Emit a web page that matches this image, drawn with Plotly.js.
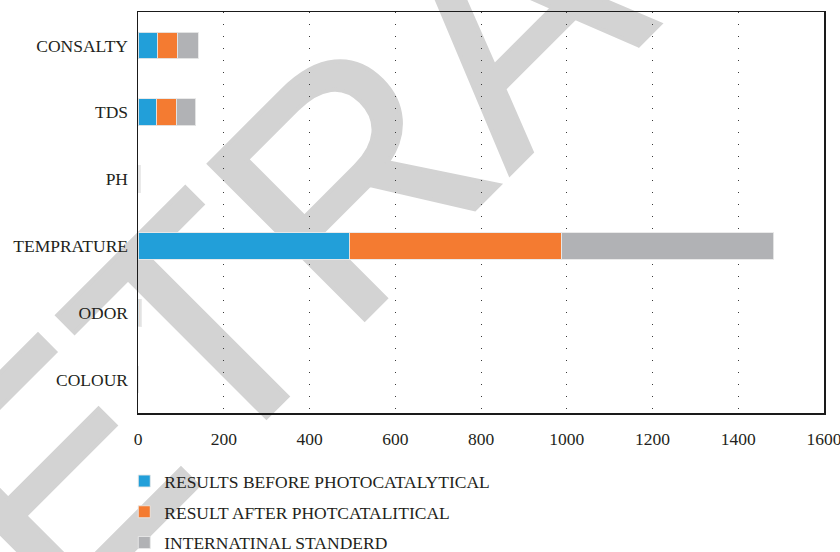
<!DOCTYPE html>
<html>
<head>
<meta charset="utf-8">
<script src="https://cdn.plot.ly/plotly-3.0.1.min.js"></script>
<style>
  html, body { margin: 0; padding: 0; background: #ffffff; }
  #wrap { position: relative; width: 840px; height: 552px; overflow: hidden; }
  #stamp { position: absolute; left: 0; top: 0; z-index: 0; }
  #chart { position: absolute; left: 0; top: 0; width: 840px; height: 552px; z-index: 1; }
</style>
</head>
<body>
<div id="wrap">
  <svg id="stamp" width="840" height="552" xmlns="http://www.w3.org/2000/svg">
    <text x="585" y="99" text-anchor="middle" font-family="Liberation Sans, Arial, sans-serif"
          font-size="320" fill="#d3d3d3" stroke="#d3d3d3" stroke-width="4" stroke-linejoin="miter"
          transform="rotate(-45 585 99)">RETRACTED</text>
  </svg>
  <div id="chart"></div>
</div>
<script>
// Water quality parameters (top to bottom)
const categories = ['CONSALTY', 'TDS', 'PH', 'TEMPRATURE', 'ODOR', 'COLOUR'];

// Stacked series values
const beforeValues   = [45, 42, 2.0, 493, 2.5, 0.3];
const afterValues    = [47, 47, 1.8, 495, 2.4, 0.3];
const standardValues = [49, 46, 1.7, 495, 2.3, 0.3];

const seriesNames = [
  'RESULTS BEFORE PHOTOCATALYTICAL',
  'RESULT AFTER PHOTCATALITICAL',
  'INTERNATINAL STANDERD'
];
const seriesColors = ['#229fd9', '#f47b31', '#b1b2b5'];

const xTickValues = [0, 200, 400, 600, 800, 1000, 1200, 1400, 1600];

const seriesValues = [beforeValues, afterValues, standardValues];

const traces = seriesValues.map((vals, i) => ({
  type: 'bar',
  orientation: 'h',
  name: seriesNames[i],
  legendgroup: 'g' + i,
  y: categories,
  x: vals,
  marker: {
    color: seriesColors[i],
    line: { color: 'rgba(232,232,232,0.9)', width: 1 }
  },
  hoverinfo: 'skip'
}));

const textFont = { family: 'Liberation Serif, Times New Roman, serif', size: 17.5, color: '#231f20' };

const layout = {
  width: 840,
  height: 552,
  margin: { l: 138, r: 16, t: 12, b: 139, pad: 0, autoexpand: false },
  barmode: 'stack',
  bargap: 0.6,
  paper_bgcolor: 'rgba(0,0,0,0)',
  plot_bgcolor: 'rgba(0,0,0,0)',
  font: textFont,
  showlegend: true,
  xaxis: {
    range: [0, 1600],
    tickvals: xTickValues,
    ticktext: xTickValues.map(String),
    showgrid: true,
    gridcolor: '#3a3a3a',
    gridwidth: 1,
    griddash: '1px,11px',
    zeroline: false,
    showline: true,
    linecolor: '#1a1a1a',
    linewidth: 1.5,
    mirror: true,
    ticks: '',
    ticklabelstandoff: 9,
    ticklabeloverflow: 'allow',
    automargin: false,
    tickfont: textFont,
    fixedrange: true
  },
  yaxis: {
    type: 'category',
    categoryorder: 'array',
    categoryarray: categories,
    autorange: 'reversed',
    showgrid: false,
    zeroline: false,
    showline: true,
    linecolor: '#1a1a1a',
    linewidth: 1.5,
    mirror: true,
    ticks: '',
    ticklabelstandoff: 5,
    automargin: false,
    tickfont: textFont,
    fixedrange: true
  },
  legend: {
    orientation: 'v',
    x: -0.02,
    xanchor: 'left',
    y: -0.125,
    yanchor: 'top',
    traceorder: 'grouped',
    tracegroupgap: 5,
    bgcolor: 'rgba(0,0,0,0)',
    borderwidth: 0,
    itemwidth: 30,
    font: textFont
  }
};

Plotly.newPlot('chart', traces, layout, { displayModeBar: false, staticPlot: true });
</script>
</body>
</html>
